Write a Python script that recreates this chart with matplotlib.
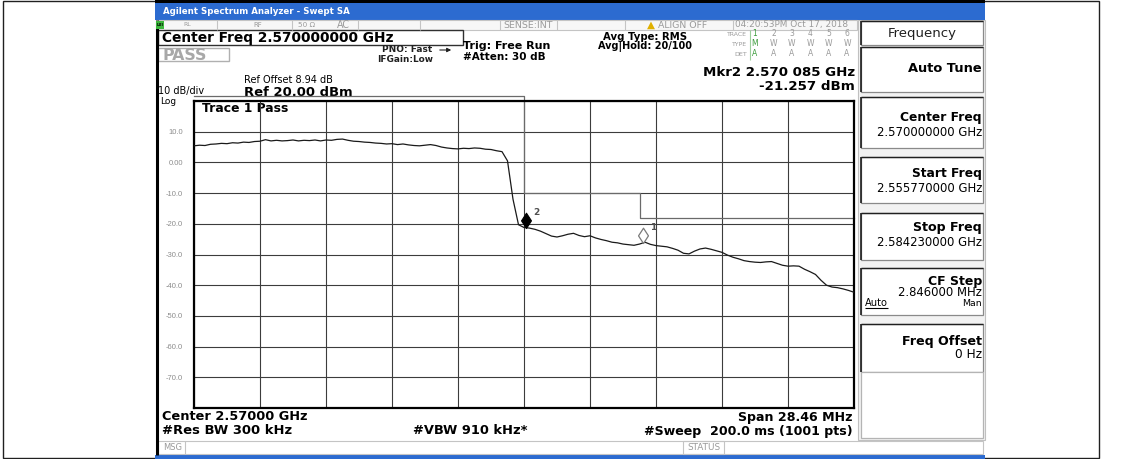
import numpy as np
import matplotlib
matplotlib.use('Agg')
import matplotlib.pyplot as plt
from matplotlib.patches import Rectangle
from matplotlib.path import Path

W, H = 1134, 459

# sweep settings and trace 1 (dBm)
start_ghz = 2.55577
stop_ghz = 2.58423
level_dbm = [5.4, 5.6, 5.5, 5.9, 6.0, 6.2, 6.1, 6.4, 6.3, 6.6,
             6.5, 6.8, 6.9, 7.4, 7.0, 7.2, 7.0, 7.1, 7.3, 7.0,
             7.2, 7.1, 7.3, 7.0, 7.3, 7.2, 7.5, 7.6, 7.2, 6.9,
             6.8, 6.6, 6.5, 6.3, 6.2, 6.0, 6.1, 5.8, 6.0, 5.7,
             5.5, 5.4, 5.6, 5.8, 5.5, 5.0, 4.7, 4.5, 4.4, 4.6,
             4.5, 4.7, 4.6, 4.3, 4.2, 3.8, 3.5, 0.5, -12.0, -20.3,
             -21.2, -21.4, -21.8, -22.4, -23.2, -24.0, -24.3, -23.9, -23.4, -23.1,
             -23.8, -24.2, -23.9, -24.6, -25.1, -25.5, -26.0, -26.2, -26.6, -26.8,
             -27.0, -26.6, -26.0, -26.7, -27.1, -27.3, -27.5, -28.0, -28.6, -29.6,
             -29.8, -28.9, -28.2, -27.9, -28.3, -28.8, -29.3, -30.2, -30.9, -31.4,
             -32.0, -32.3, -32.5, -32.6, -32.4, -32.3, -32.9, -33.5, -33.8, -33.7,
             -33.8, -34.8, -35.6, -36.5, -38.4, -40.0, -40.6, -40.8, -41.2, -41.7,
             -42.3]
freq_ghz = np.linspace(start_ghz, stop_ghz, len(level_dbm))

# markers
mkr_freq = [2.570085, 2.57513]
mkr_level = [-21.257, -26.1]
mkr_name = ['2', '1']

# limit line (pass mask)
limit_freq = [start_ghz, 2.570, 2.570, 2.575, 2.575, stop_ghz]
limit_level = [21.5, 21.5, -10, -10, -18, -18]

ytick_vals = list(range(-80, 21, 10))
ytick_text = ['', '-70.0', '-60.0', '-50.0', '-40.0', '-30.0', '-20.0',
              '-10.0', '0.00', '10.0', '']

fig = plt.figure(figsize=(W / 100, H / 100), dpi=100)
renderer = fig.canvas.get_renderer()

# whole screen drawn in pixel coordinates
bg = fig.add_axes([0, 0, 1, 1])
bg.set_xlim(0, W)
bg.set_ylim(H, 0)
bg.axis('off')


def box(x0, y0, x1, y1, fc='none', ec='k', lw=1.0, z=1):
    bg.add_patch(Rectangle((x0, y0), x1 - x0, y1 - y0, fc=fc, ec=ec, lw=lw, zorder=z))


def line(xs, ys, c='k', lw=1.0, z=2):
    bg.plot(xs, ys, color=c, lw=lw, zorder=z, solid_capstyle='butt')


def label(x, y, s, w=None, size=7, ha='left', bold=False, color='k', maxsize=None, **kw):
    t = bg.text(x, y, s, fontsize=size, ha=ha, va='center', color=color,
                fontweight='bold' if bold else 'normal', zorder=5, **kw)
    if w:
        width = t.get_window_extent(renderer).width
        new = size * w / width
        if maxsize:
            new = min(new, maxsize)
        t.set_fontsize(new)
    return t


# outer frame
box(3, 1, 1099, 458, ec='#202020', lw=1)

# screen background
box(155, 0, 985, 459, fc='white', ec='none', z=0)
box(155, 0, 985, 3, fc='black', ec='none')
box(155, 3, 985, 20, fc='#2c6bd0', ec='none')
label(163, 12, 'Agilent Spectrum Analyzer - Swept SA', 187, bold=True, color='white')
box(155, 455, 985, 459, fc='#2c6bd0', ec='none')

# status row
box(158, 20, 857, 30, fc='#f7f7f7', ec='#c4c4c4', lw=0.8)
for xd in [217, 292, 358, 420, 500, 557, 625, 733]:
    line([xd, xd], [20, 30], c='#c4c4c4', lw=0.8)
box(156, 21, 164, 29, fc='#3cb83c', ec='none', z=3)
label(160, 25, 'LXI', 7, ha='center', bold=True, color='k')
gray = '#9a9a9a'
label(183, 25, 'RL', 8, color=gray)
label(253, 25, 'RF', 9, color=gray)
label(298, 25, '50 Ω', 17, color=gray)
label(337, 25, 'AC', 13, color=gray)
label(503, 25, 'SENSE:INT', 50, color=gray)
label(651, 25, '▲', 8, ha='center', color='#e0b000')
label(658, 25, 'ALIGN OFF', 50, color=gray)
label(735, 25, '04:20:53PM Oct 17, 2018', 113, color=gray)

# left edge of the display
line([156.5, 156.5], [20, 455], c='black', lw=2.2)

# header
box(158, 30, 463, 45, ec='#303030', lw=1)
label(162, 38, 'Center Freq 2.570000000 GHz', 233, bold=True)
box(158, 48, 229, 61, ec='#b0b0b0', lw=1)
label(162, 55, 'PASS', 45, bold=True, color='#a8a8a8')
label(382, 50, 'PNO: Fast', 50, bold=True, color='#202020')
bg.annotate('', xy=(454, 50), xytext=(437, 50),
            arrowprops=dict(arrowstyle='-|>', lw=0.8, color='#202020', mutation_scale=6))
label(377, 60, 'IFGain:Low', 56, bold=True, color='#202020')
label(463, 46, 'Trig: Free Run', 89, bold=True)
label(463, 57, '#Atten: 30 dB', 82, bold=True)
label(603, 37, 'Avg Type: RMS', 85, bold=True)
label(598, 47, 'Avg|Hold: 20/100', 95, bold=True)

# trace table
label(747, 34, 'TRACE', 20, ha='right', color=gray)
label(747, 44, 'TYPE', 15, ha='right', color=gray)
label(747, 54, 'DET', 13, ha='right', color=gray)
line([750, 750], [30, 60], c='#9ccf9c', lw=0.8)
green = '#3c9c3c'
for i, xc in enumerate(np.linspace(755, 847, 6)):
    c = green if i == 0 else gray
    label(xc, 34, str(i + 1), size=5.5, ha='center', color=c)
    label(xc, 44, 'M' if i == 0 else 'W', size=5.5, ha='center', color=c)
    label(xc, 54, 'A', size=5.5, ha='center', color=c)

label(244, 80, 'Ref Offset 8.94 dB', 98, maxsize=7)
label(158, 91, '10 dB/div', 62, maxsize=7)
label(244, 92, 'Ref 20.00 dBm', 108, bold=True)
label(160, 102, 'Log', 18, maxsize=6.5)
label(855, 73, 'Mkr2 2.570 085 GHz', 185, ha='right', bold=True, maxsize=9.6)
label(855, 87, '-21.257 dBm', 115, ha='right', bold=True, maxsize=9.6)
label(202, 108, 'Trace 1 Pass', 86, bold=True)

# footer
label(162, 417, 'Center 2.57000 GHz', 146, bold=True)
label(162, 431, '#Res BW 300 kHz', 130, bold=True)
label(413, 431, '#VBW 910 kHz*', 115, bold=True)
label(853, 417, 'Span 28.46 MHz', 115, ha='right', bold=True)
label(853, 431, '#Sweep  200.0 ms (1001 pts)', 210, ha='right', bold=True)
box(158, 441, 983, 454, fc='white', ec='#c4c4c4', lw=0.8)
line([185, 185], [441, 454], c='#c4c4c4', lw=0.8)
box(683, 441, 724, 454, ec='#c4c4c4', lw=0.8)
label(163, 448, 'MSG', 19, color=gray)
label(687, 448, 'STATUS', 33, color=gray)

# soft key panel
box(858, 20, 985, 440, fc='#f2f2f2', ec='#c0c0c0', lw=0.8, z=0.5)
keys = [(21, 45), (47, 92), (97, 148), (157, 203), (213, 260),
        (268, 315), (324, 372)]
for y0, y1 in keys:
    box(861, y0, 983, y1, fc='white', ec='#8a8a8a', lw=0.9)
    line([861, 861], [y0, y1], c='#202020', lw=1.2, z=3)
    line([861, 983], [y0, y0], c='#202020', lw=1.0, z=3)
box(861, 372, 983, 438, fc='white', ec='#b4b4b4', lw=0.9)
label(922, 33, 'Frequency', 69, ha='center', color='#202020')
label(982, 69, 'Auto Tune', 74, ha='right', bold=True)
label(982, 118, 'Center Freq', 82, ha='right', bold=True)
label(982, 133, '2.570000000 GHz', 105, ha='right')
label(982, 173, 'Start Freq', 70, ha='right', bold=True)
label(982, 188, '2.555770000 GHz', 105, ha='right')
label(982, 228, 'Stop Freq', 69, ha='right', bold=True)
label(982, 243, '2.584230000 GHz', 105, ha='right')
label(982, 281, 'CF Step', 55, ha='right', bold=True)
label(982, 292, '2.846000 MHz', 84, ha='right')
label(865, 303, 'Auto', 23)
line([865, 888], [308, 308], c='k', lw=0.8)
label(982, 303, 'Man', 20, ha='right')
label(982, 341, 'Freq Offset', 80, ha='right', bold=True)
label(982, 355, '0 Hz', 27, ha='right')

# graticule
ax = fig.add_axes([194 / W, 1 - 408 / H, 660 / W, 307 / H])
ax.set_facecolor('none')
ax.set_xlim(start_ghz, stop_ghz)
ax.set_ylim(-80, 20)
ax.set_xticks(np.linspace(start_ghz, stop_ghz, 11))
ax.set_xticklabels([])
ax.set_yticks(ytick_vals)
ax.set_yticklabels(ytick_text, fontsize=5.5, color='#8c8c8c', fontfamily='Liberation Sans')
ax.tick_params(length=0, pad=8)
ax.grid(True, color='#3c3c3c', lw=0.8)
for s in ax.spines.values():
    s.set_linewidth(1.6)
    s.set_color('black')

ax.plot(limit_freq, limit_level, color='#6a6a6a', lw=0.9, clip_on=False, zorder=2)
ax.plot(freq_ghz, level_dbm, color='#1a1a1a', lw=0.9, zorder=3)

# diamond marker with its tip on the trace
diamond = Path([(0, 0), (0.65, 1), (0, 2), (-0.65, 1), (0, 0)],
               [Path.MOVETO, Path.LINETO, Path.LINETO, Path.LINETO, Path.CLOSEPOLY])
ax.plot(mkr_freq[0], mkr_level[0], marker=diamond, ms=22, color='black',
        mec='black', mew=0.8, zorder=4)
ax.plot(mkr_freq[1], mkr_level[1], marker=diamond, ms=22, mfc='white',
        mec='#7a7a7a', mew=0.9, zorder=4)
for f, lv, name in zip(mkr_freq, mkr_level, mkr_name):
    ax.annotate(name, (f, lv), xytext=(7.5, 11), textcoords='offset points',
                fontsize=6.5, fontweight='bold', color='#505050',
                ha='center', va='center', zorder=5)

fig.savefig('out.png', dpi=100)
